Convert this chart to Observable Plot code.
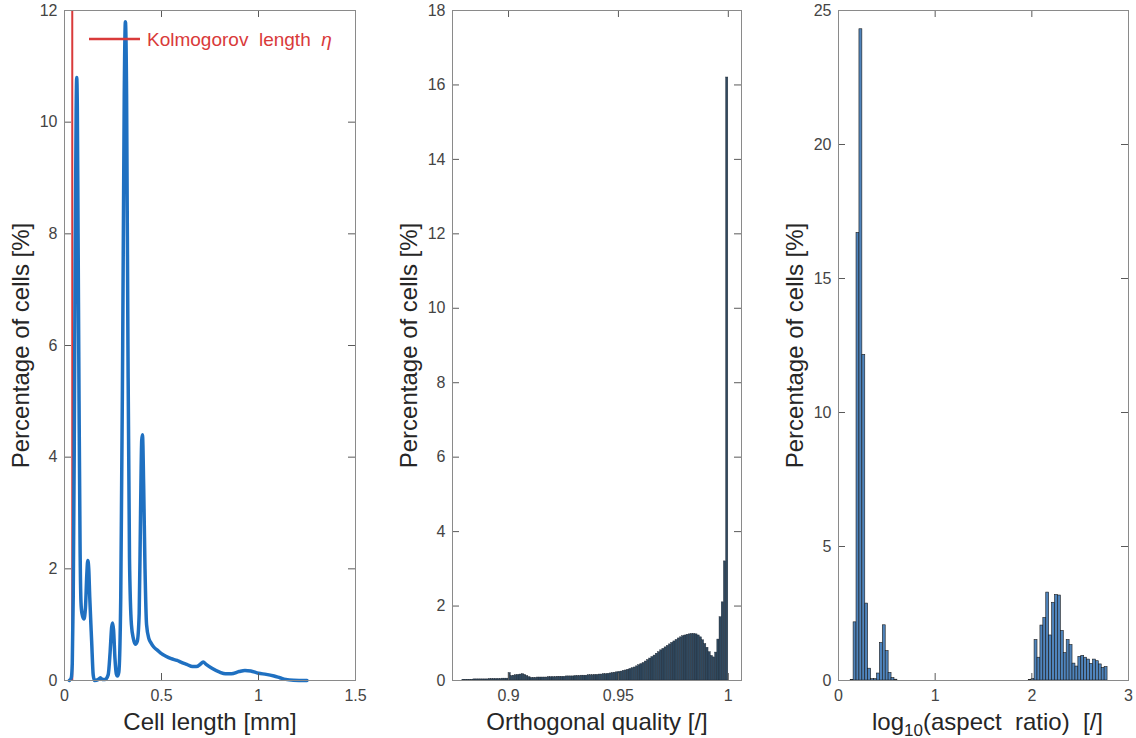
<!DOCTYPE html>
<html><head><meta charset="utf-8">
<script src="https://cdn.jsdelivr.net/npm/d3@7"></script>
<script src="https://cdn.jsdelivr.net/npm/@observablehq/plot@0.6"></script>
<style>
html,body{margin:0;padding:0;background:#fff;}
#wrap{position:relative;width:1136px;height:738px;background:#fff;}
#wrap svg{position:absolute;top:0;}
</style></head><body><div id="wrap"></div>
<script>
// ---------- Panel 1: cell length distribution ----------
const cellLength = [0.025,0.035,0.04,0.045,0.05,0.055,0.06,0.063,0.066,0.07,0.075,0.08,0.085,0.09,0.1,0.108,0.115,0.12,0.125,0.13,0.14,0.148,0.155,0.175,0.185,0.195,0.21,0.225,0.235,0.243,0.248,0.253,0.26,0.267,0.273,0.28,0.29,0.3,0.308,0.314,0.32,0.327,0.335,0.345,0.355,0.365,0.375,0.385,0.392,0.398,0.402,0.408,0.415,0.423,0.435,0.445,0.46,0.48,0.5,0.52,0.55,0.58,0.6,0.63,0.66,0.68,0.7,0.715,0.73,0.76,0.8,0.83,0.86,0.9,0.93,0.96,1.0,1.04,1.08,1.11,1.14,1.18,1.25];
const cellPct = [0,0.05,0.3,1.5,4,7.5,10.2,10.8,10.3,8,5,2.5,1.4,1.2,1.1,1.3,1.9,2.15,2.0,1.5,0.7,0.1,0,0.02,0.05,0.02,0.02,0.1,0.5,0.95,1.03,0.9,0.4,0.12,0.08,0.15,1.5,6,10.5,11.8,10.5,6,2.2,1.0,0.75,0.65,0.7,1.2,3,4.3,4.4,3.5,2,1.0,0.75,0.68,0.6,0.54,0.48,0.44,0.39,0.36,0.33,0.29,0.25,0.25,0.29,0.33,0.29,0.22,0.15,0.12,0.12,0.16,0.18,0.17,0.13,0.11,0.08,0.05,0.02,0.005,0];
const kolmogorovLength = 0.04;
const p1xTicks = [0, 0.5, 1, 1.5];
const p1yTicks = [0, 2, 4, 6, 8, 10, 12];

// ---------- Panel 2: orthogonal quality histogram ----------
const oqBinStart = 0.879;
const oqBinWidth = 0.001;
const oqPct = [
 0.02,0.02,0.02,0.02,0.02,0.03,0.03,0.03,0.03,0.03,0.03,0.03,0.04,0.04,0.04,0.04,0.04,0.04,0.05,0.05,0.05,
 0.2,0.12,0.13,0.14,0.15,0.16,0.17,0.15,0.12,0.09,
 0.07,0.07,0.07,0.08,0.08,0.08,0.08,0.08,0.09,0.09,0.09,0.09,0.10,0.10,0.10,0.10,0.11,0.11,0.11,0.11,
 0.12,0.12,0.12,0.13,0.13,0.13,0.14,0.14,0.14,0.15,0.15,0.16,0.16,0.17,0.17,0.18,0.19,0.2,0.21,0.22,
 0.23,0.24,0.26,0.27,0.29,0.31,0.33,0.35,0.38,0.41,0.44,0.47,0.51,0.55,0.59,0.63,0.67,0.72,0.76,0.81,
 0.85,0.89,0.93,0.97,1.01,1.05,1.09,1.13,1.16,1.19,1.21,1.23,1.24,1.25,1.25,1.24,1.21,1.16,1.08,0.98,
 0.88,0.76,0.66,0.62,0.75,1.1,1.7,2.1,3.2,16.2];
const p2xTicks = [0.9, 0.95, 1];
const p2yTicks = [0, 2, 4, 6, 8, 10, 12, 14, 16, 18];

// ---------- Panel 3: log10(aspect ratio) histogram ----------
const arBinWidth = 0.0302;
const arLowStart = 0.126;
const arLowPct = [0.02,2.17,16.7,24.3,12.15,2.87,0.44,0.05,0.05,0.26,1.4,2.06,1.1,0.28,0.09,0.03];
const arHighStart = 1.968;
const arHighPct = [0.02,0.06,1.51,0.85,2.05,2.33,3.28,1.68,2.9,3.19,3.17,1.85,1.02,1.51,1.32,0.63,0.52,0.88,0.92,0.85,0.78,0.62,0.78,0.72,0.6,0.47,0.5];
const p3xTicks = [0, 1, 2, 3];
const p3yTicks = [0, 5, 10, 15, 20, 25];

// ---------- helpers ----------
const FONT = "'Liberation Sans', Arial, Helvetica, sans-serif";
const H = 738, MT = 10, MB = 58;
const frameColor = "#8a8a8a", tickColor = "#5a5a5a", textColor = "#444444", labelColor = "#262626";
const blue = "#1f70c1", red = "#d93a3a";

function bins(start, width, vals) {
  return vals.map((v, i) => ({x1: start + i * width, x2: start + (i + 1) * width, y: v}));
}

function panel({left, width, mL, mR, xDomain, yDomain, xTicks, yTicks, xLabel, xLabelDx = 0, marks}) {
  const fw = width - mL - mR, fh = H - MT - MB, t = 7;
  const svg = Plot.plot({
    width, height: H, marginLeft: mL, marginRight: mR, marginTop: MT, marginBottom: MB,
    style: {fontFamily: FONT, fontSize: "16px", color: textColor, background: "transparent", overflow: "visible"},
    x: {domain: xDomain}, y: {domain: yDomain},
    marks: [
      ...marks,
      Plot.tickY(yTicks, {y: d => d, insetRight: fw - t, stroke: tickColor}),
      Plot.tickY(yTicks, {y: d => d, insetLeft: fw - t, stroke: tickColor}),
      Plot.tickX(xTicks, {x: d => d, insetTop: fh - t, stroke: tickColor}),
      Plot.tickX(xTicks, {x: d => d, insetBottom: fh - t, stroke: tickColor}),
      Plot.frame({stroke: frameColor}),
      Plot.axisX({ticks: xTicks, tickSize: 0, tickPadding: 9, tickFormat: d => String(d), label: null, fontSize: 16}),
      Plot.axisY({ticks: yTicks, tickSize: 0, tickPadding: 7, tickFormat: d => String(d), label: null, fontSize: 16}),
      Plot.text([xLabel], {text: d => d, frameAnchor: "bottom", textAnchor: "middle", lineAnchor: "middle", dx: xLabelDx, dy: 42, fontSize: 24, fill: labelColor}),
      Plot.text(["Percentage of cells [%]"], {text: d => d, frameAnchor: "left", textAnchor: "middle", lineAnchor: "middle", rotate: -90, dx: -43, fontSize: 24, fill: labelColor})
    ]
  });
  svg.style.left = left + "px";
  document.getElementById("wrap").appendChild(svg);
  return svg;
}

// Panel 1
const lineData = cellLength.map((x, i) => ({x, y: cellPct[i]}));
const svg1 = panel({
  left: 0, width: 378, mL: 64, mR: 23,
  xDomain: [0, 1.5], yDomain: [0, 12], xTicks: p1xTicks, yTicks: p1yTicks,
  xLabel: "Cell length [mm]",
  marks: [
    Plot.ruleX([kolmogorovLength], {x: d => d, stroke: red, strokeWidth: 2}),
    Plot.line(lineData, {x: "x", y: "y", stroke: blue, strokeWidth: 3.5, curve: "monotone-x"})
  ]
});
// legend
{
  const g = d3.select(svg1).append("g");
  g.append("line").attr("x1", 89).attr("x2", 140).attr("y1", 39).attr("y2", 39)
    .attr("stroke", red).attr("stroke-width", 2.5);
  g.append("text").attr("x", 147).attr("y", 46).attr("fill", red).attr("text-anchor", "start")
    .attr("font-family", FONT).attr("font-size", 19)
    .html("Kolmogorov\u00a0\u00a0length\u00a0\u00a0<tspan font-style='italic'>\u03b7</tspan>");
}

// Panel 2
panel({
  left: 378, width: 380, mL: 74, mR: 17,
  xDomain: [0.8745, 1.006], yDomain: [0, 18], xTicks: p2xTicks, yTicks: p2yTicks,
  xLabel: "Orthogonal quality [/]",
  marks: [
    Plot.rectY(bins(oqBinStart, oqBinWidth, oqPct), {x1: "x1", x2: "x2", y: "y", fill: "#30495f", stroke: "#1c2530", strokeWidth: 0.4})
  ]
});

// Panel 3
const svg3 = panel({
  left: 758, width: 378, mL: 80, mR: 8,
  xDomain: [0, 3], yDomain: [0, 25], xTicks: p3xTicks, yTicks: p3yTicks,
  xLabel: "LOG10LABEL", xLabelDx: 4,
  marks: [
    Plot.rectY([...bins(arLowStart, arBinWidth, arLowPct), ...bins(arHighStart, arBinWidth, arHighPct)],
      {x1: "x1", x2: "x2", y: "y", fill: "#4f84bc", stroke: "#1a1a1a", strokeWidth: 0.6})
  ]
});
d3.select(svg3).selectAll("text").filter(function () { return this.textContent === "LOG10LABEL"; })
  .html("log<tspan font-size='17' dy='6'>10</tspan><tspan dy='-6'>(aspect\u00a0\u00a0ratio)\u00a0\u00a0[/]</tspan>");
</script></body></html>
